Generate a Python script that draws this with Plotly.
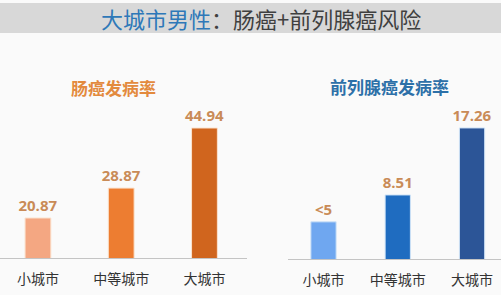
import plotly.graph_objects as go

W, H = 501, 295

title_blue = "大城市男性"
title_rest = "：肠癌+前列腺癌风险"

categories = ["小城市", "中等城市", "大城市"]

colon_title = "肠癌发病率"
colon_values = [20.87, 28.87, 44.94]
colon_labels = ["20.87", "28.87", "44.94"]
colon_colors = ["#F4A782", "#ED7D31", "#D0651E"]

prostate_title = "前列腺癌发病率"
prostate_values = [5.0, 8.51, 17.26]
prostate_labels = ["<5", "8.51", "17.26"]
prostate_colors = ["#6FA7F0", "#1F6CC0", "#2C5597"]

CJK = "Noto Sans CJK SC"
label_color = "#C98B57"


def py(px):
    return 1 - px / H


fig = go.Figure()

fig.add_trace(go.Bar(
    x=categories, y=colon_values, text=colon_labels,
    textposition="outside", cliponaxis=False, constraintext="none",
    textfont=dict(family="Open Sans", size=15, color=label_color, weight="bold"),
    marker=dict(color=colon_colors, line=dict(color="#FBE3CF", width=1)),
    width=0.31, xaxis="x", yaxis="y", hoverinfo="skip",
))
fig.add_trace(go.Bar(
    x=categories, y=prostate_values, text=prostate_labels,
    textposition="outside", cliponaxis=False, constraintext="none",
    textfont=dict(family="Open Sans", size=15, color=label_color, weight="bold"),
    marker=dict(color=prostate_colors, line=dict(color="#CFE3F7", width=1)),
    width=0.34, xaxis="x2", yaxis="y2", hoverinfo="skip",
))

ybot = py(258)
ytop = py(60)

fig.update_layout(
    width=W, height=H,
    margin=dict(l=0, r=0, t=0, b=0),
    paper_bgcolor="#FAFAFA", plot_bgcolor="rgba(0,0,0,0)",
    showlegend=False,
    font=dict(family=CJK, color="#333333"),
    xaxis=dict(domain=[0, 247 / W], range=[-0.456, 2.511],
               showline=True, linecolor="#C4C4C4", linewidth=1,
               ticks="", ticklabelstandoff=8,
               tickfont=dict(family=CJK, size=14, color="#333333"),
               showgrid=False, zeroline=False, fixedrange=True),
    yaxis=dict(domain=[ybot, ytop], range=[10.17, 10.17 + 198 / 3.739],
               visible=False, showgrid=False, zeroline=False),
    xaxis2=dict(domain=[288 / W, 1], range=[-0.478, 2.39], anchor="y2",
                showline=True, linecolor="#C4C4C4", linewidth=1,
                ticks="", ticklabelstandoff=8,
                tickfont=dict(family=CJK, size=14, color="#333333"),
                showgrid=False, zeroline=False),
    yaxis2=dict(domain=[py(259), ytop], range=[0.15, 0.15 + 199 / 7.66],
                anchor="x2", visible=False, showgrid=False, zeroline=False),
    shapes=[dict(type="rect", xref="paper", yref="paper",
                 x0=0, x1=1, y0=py(33), y1=py(3),
                 fillcolor="#D8D8D8", line=dict(width=0), layer="below")],
    annotations=[
        dict(xref="paper", yref="paper", x=261 / W, y=py(18),
             text=f"<span style='color:#2E78B8'>{title_blue}</span>{title_rest}",
             showarrow=False, xanchor="center", yanchor="middle",
             font=dict(family=CJK, size=22, color="#404040")),
        dict(xref="paper", yref="paper", x=113 / W, y=py(88),
             text=f"<b>{colon_title}</b>", showarrow=False,
             xanchor="center", yanchor="middle",
             font=dict(family=CJK, size=17, color="#E38A3E")),
        dict(xref="paper", yref="paper", x=389 / W, y=py(86),
             text=f"<b>{prostate_title}</b>", showarrow=False,
             xanchor="center", yanchor="middle",
             font=dict(family=CJK, size=17, color="#2D70A8")),
    ],
)

fig.write_html("out.html", config=dict(displayModeBar=False))
